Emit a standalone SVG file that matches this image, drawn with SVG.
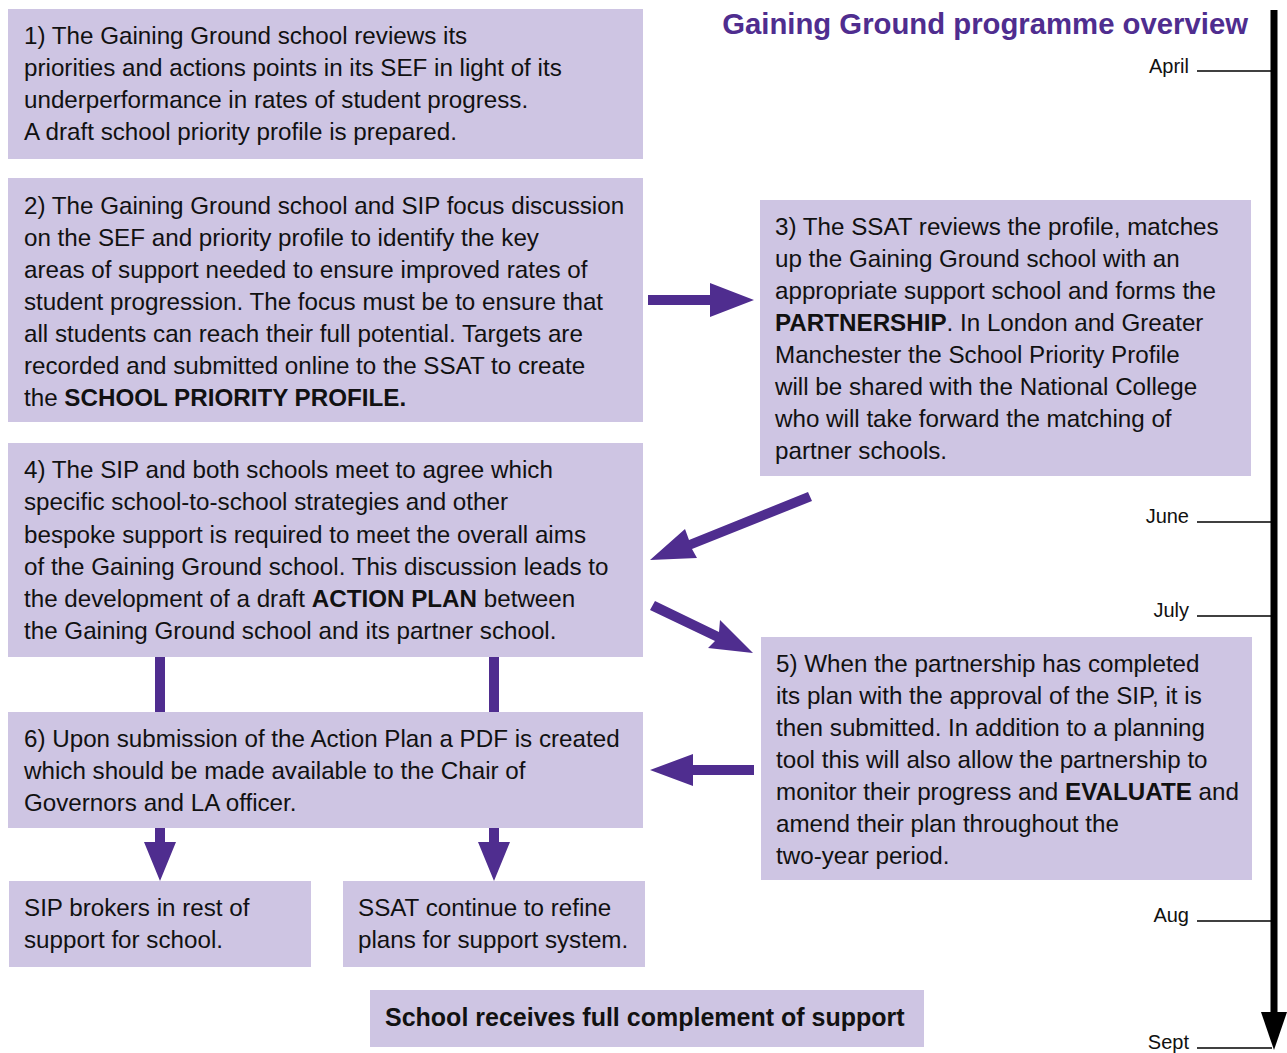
<svg xmlns="http://www.w3.org/2000/svg" width="1287" height="1053" viewBox="0 0 1287 1053">
  <style>
    .box { fill: #CEC5E3; }
    .txt { font-family: "Liberation Sans", Arial, sans-serif; font-size: 24.2px; fill: #111; }
    .b { font-weight: bold; }
    .title { font-family: "Liberation Sans", Arial, sans-serif; font-size: 29.3px; font-weight: bold; fill: #4F2D8F; }
    .month { font-family: "Liberation Sans", Arial, sans-serif; font-size: 20px; fill: #111; text-anchor: end; }
    .arrow { fill: #4F2D8F; }
    .tick { stroke: #000; stroke-width: 1.5; }
  </style>
  <rect width="1287" height="1053" fill="#fff"/>

  <text class="title" x="1248" y="34" text-anchor="end">Gaining Ground programme overview</text>

  <!-- timeline -->
  <g id="timeline">
    <rect x="1270.5" y="10" width="7" height="1005" fill="#000"/>
    <polygon points="1261,1012 1287,1012 1274,1050" fill="#000"/>
    <line class="tick" x1="1197" y1="71" x2="1272" y2="71"/>
    <line class="tick" x1="1197" y1="522" x2="1272" y2="522"/>
    <line class="tick" x1="1197" y1="616" x2="1272" y2="616"/>
    <line class="tick" x1="1197" y1="921" x2="1272" y2="921"/>
    <line class="tick" x1="1197" y1="1048" x2="1272" y2="1048"/>
    <text class="month" x="1189" y="73">April</text>
    <text class="month" x="1189" y="523">June</text>
    <text class="month" x="1189" y="617">July</text>
    <text class="month" x="1189" y="922">Aug</text>
    <text class="month" x="1189" y="1049">Sept</text>
  </g>

  <!-- connectors -->
  <g id="connectors" class="arrow">
    <!-- 2 to 3 -->
    <polygon points="648,295 710,295 710,283 754,300 710,317 710,305 648,305"/>
    <!-- 3 to 4 -->
    <polygon points="808,492 812,501 692,549 697,558 650,560 685,529 689,540"/>
    <!-- 4 to 5 -->
    <polygon points="655,601 650,610 715,641 708,648 753,653 720,620 719,632"/>
    <!-- 5 to 6 -->
    <polygon points="754,765 693,765 693,754 650,770 693,786 693,775 754,775"/>
    <!-- 4 to 6 -->
    <rect x="155" y="657" width="10" height="55"/>
    <rect x="489" y="657" width="10" height="55"/>
    <!-- 6 to 7 / 8 -->
    <polygon points="155,828 165,828 165,842 176,842 160,881 144,842 155,842"/>
    <polygon points="489,828 499,828 499,842 510,842 494,881 478,842 489,842"/>
  </g>

  <g id="step1">
    <rect class="box" x="8" y="9" width="635" height="150"/>
    <text class="txt">
      <tspan x="24" y="44">1) The Gaining Ground school reviews its</tspan>
      <tspan x="24" y="76">priorities and actions points in its SEF in light of its</tspan>
      <tspan x="24" y="108">underperformance in rates of student progress.</tspan>
      <tspan x="24" y="140">A draft school priority profile is prepared.</tspan>
    </text>
  </g>

  <g id="step2">
    <rect class="box" x="8" y="178" width="635" height="244"/>
    <text class="txt">
      <tspan x="24" y="214">2) The Gaining Ground school and SIP focus discussion</tspan>
      <tspan x="24" y="246">on the SEF and priority profile to identify the key</tspan>
      <tspan x="24" y="278">areas of support needed to ensure improved rates of</tspan>
      <tspan x="24" y="310">student progression. The focus must be to ensure that</tspan>
      <tspan x="24" y="342">all students can reach their full potential. Targets are</tspan>
      <tspan x="24" y="374">recorded and submitted online to the SSAT to create</tspan>
      <tspan x="24" y="406">the <tspan class="b">SCHOOL PRIORITY PROFILE.</tspan></tspan>
    </text>
  </g>

  <g id="step3">
    <rect class="box" x="760" y="200" width="491" height="276"/>
    <text class="txt">
      <tspan x="775" y="235">3) The SSAT reviews the profile, matches</tspan>
      <tspan x="775" y="267">up the Gaining Ground school with an</tspan>
      <tspan x="775" y="299">appropriate support school and forms the</tspan>
      <tspan x="775" y="331"><tspan class="b">PARTNERSHIP</tspan>. In London and Greater</tspan>
      <tspan x="775" y="363">Manchester the School Priority Profile</tspan>
      <tspan x="775" y="395">will be shared with the National College</tspan>
      <tspan x="775" y="427">who will take forward the matching of</tspan>
      <tspan x="775" y="459">partner schools.</tspan>
    </text>
  </g>

  <g id="step4">
    <rect class="box" x="8" y="443" width="635" height="214"/>
    <text class="txt">
      <tspan x="24" y="478">4) The SIP and both schools meet to agree which</tspan>
      <tspan x="24" y="510">specific school-to-school strategies and other</tspan>
      <tspan x="24" y="543">bespoke support is required to meet the overall aims</tspan>
      <tspan x="24" y="575">of the Gaining Ground school. This discussion leads to</tspan>
      <tspan x="24" y="607">the development of a draft <tspan class="b">ACTION PLAN</tspan> between</tspan>
      <tspan x="24" y="639">the Gaining Ground school and its partner school.</tspan>
    </text>
  </g>

  <g id="step5">
    <rect class="box" x="761" y="637" width="491" height="243"/>
    <text class="txt">
      <tspan x="776" y="672">5) When the partnership has completed</tspan>
      <tspan x="776" y="704">its plan with the approval of the SIP, it is</tspan>
      <tspan x="776" y="736">then submitted. In addition to a planning</tspan>
      <tspan x="776" y="768">tool this will also allow the partnership to</tspan>
      <tspan x="776" y="800">monitor their progress and <tspan class="b">EVALUATE</tspan> and</tspan>
      <tspan x="776" y="832">amend their plan throughout the</tspan>
      <tspan x="776" y="864">two-year period.</tspan>
    </text>
  </g>

  <g id="step6">
    <rect class="box" x="8" y="712" width="635" height="116"/>
    <text class="txt">
      <tspan x="24" y="747">6) Upon submission of the Action Plan a PDF is created</tspan>
      <tspan x="24" y="779">which should be made available to the Chair of</tspan>
      <tspan x="24" y="811">Governors and LA officer.</tspan>
    </text>
  </g>

  <g id="sip-brokers">
    <rect class="box" x="9" y="881" width="302" height="86"/>
    <text class="txt">
      <tspan x="24" y="916">SIP brokers in rest of</tspan>
      <tspan x="24" y="948">support for school.</tspan>
    </text>
  </g>

  <g id="ssat-refine">
    <rect class="box" x="343" y="881" width="302" height="86"/>
    <text class="txt">
      <tspan x="358" y="916">SSAT continue to refine</tspan>
      <tspan x="358" y="948">plans for support system.</tspan>
    </text>
  </g>

  <g id="full-support">
    <rect class="box" x="370" y="990" width="554" height="57"/>
    <text class="txt b" x="385" y="1026" style="font-size:25px">School receives full complement of support</text>
  </g>
</svg>
